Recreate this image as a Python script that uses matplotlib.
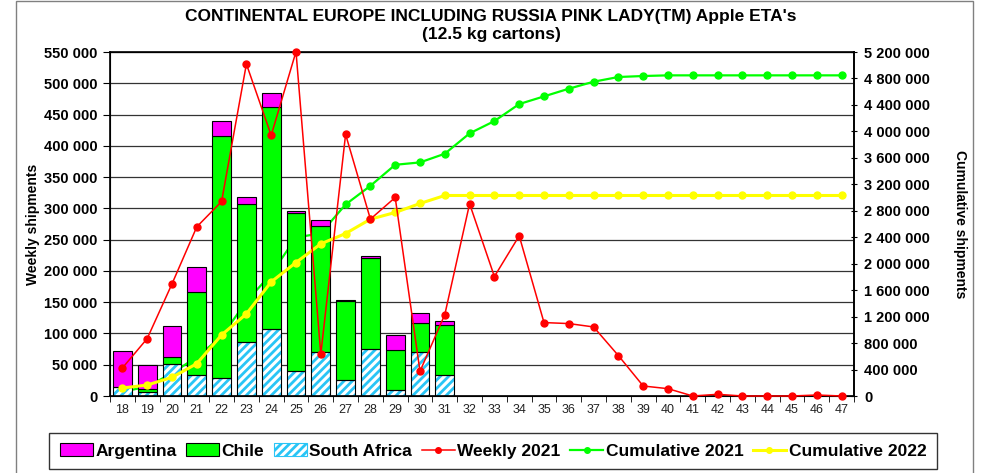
"""Pink Lady ETA's into Continental Europe incl. Russia: weekly bars + cumulative lines."""
import matplotlib
matplotlib.use("Agg")
import matplotlib.pyplot as plt
from matplotlib.patches import Patch, Rectangle
from matplotlib.lines import Line2D
from matplotlib.ticker import FuncFormatter, MultipleLocator

plt.rcParams["font.family"] = ["Liberation Sans", "DejaVu Sans"]
plt.rcParams["hatch.linewidth"] = 2.0

weeks = list(range(18, 48))
bar_weeks = list(range(18, 32))

# weekly shipments by origin (cartons), weeks 18-31
south_africa = [14000, 6400, 50700, 33000, 28300, 87000, 106700, 39500, 71000, 25000, 74700, 9000, 69900, 33600]
chile = [0, 5300, 12300, 133000, 388000, 220000, 356000, 253000, 201600, 126500, 146700, 64000, 46400, 79500]
argentina = [58500, 38000, 49000, 40000, 23000, 10600, 22500, 3200, 8600, 2700, 2100, 24500, 16000, 7500]

weekly_2021 = [44800, 91800, 179300, 270500, 311000, 530800, 416700, 550600, 66700, 418300,
               282800, 317400, 39500, 130200, 307300, 191000, 256100, 117400, 115800, 110400,
               64600, 16000, 11700, 0, 2700, 0, 0, 0, 1600, 0]
cum_2021 = [65000, 141000, 343000, 590000, 900000, 1430000, 1845000, 2395000, 2460000, 2895000,
            3177000, 3495000, 3531000, 3662000, 3970000, 4156000, 4413000, 4529000, 4645000, 4751000,
            4822000, 4837000, 4847000, 4847000, 4847000, 4847000, 4847000, 4847000, 4847000, 4847000]
cum_2022 = [121000, 166000, 282000, 489000, 923000, 1241000, 1725000, 2018000, 2300000, 2456000,
            2673000, 2774000, 2910000, 3031000] + [3031000] * 16


def spaced(v, _pos=None):
    return f"{int(round(v)):,}".replace(",", " ")


fig = plt.figure(figsize=(9.82, 4.73), dpi=100)
fig.patches.append(Rectangle((16 / 982, -0.01), (973 - 16) / 982, 1.0 - 1 / 473 + 0.01,
                             transform=fig.transFigure, fill=False, edgecolor="#808080", lw=1))

ax = fig.add_axes([110 / 982, 1 - 396 / 473, (854 - 110) / 982, (396 - 52) / 473])
ax2 = ax.twinx()

# stacked bars
w = 0.76
ax.bar(bar_weeks, south_africa, width=w, color="white", edgecolor="#29C5F6", hatch="////",
       lw=0, zorder=2)
ax.bar(bar_weeks, south_africa, width=w, fill=False, edgecolor="black", lw=0.8, zorder=2.1)
bot = [a + b for a, b in zip(south_africa, chile)]
ax.bar(bar_weeks, chile, bottom=south_africa, width=w, color="#00FF00", edgecolor="black",
       lw=0.8, zorder=2)
ax.bar(bar_weeks, argentina, bottom=bot, width=w, color="#FF00FF", edgecolor="black",
       lw=0.8, zorder=2)

# cumulative 2021 sits behind the bars (right-axis scale)
ax.plot(weeks, cum_2021, color="#00FF00", lw=1.6, marker="o", ms=5, transform=ax2.transData,
        zorder=1.5, clip_on=False)
ax2.plot(weeks, cum_2022, color="#FFFF00", lw=2.2, marker="o", ms=5, zorder=3, clip_on=False)
ax2.plot(weeks, weekly_2021, color="#FF0000", lw=1.1, marker="o", ms=5, zorder=4, clip_on=False,
         transform=ax.transData)

ax.set_xlim(17.5, 47.5)
ax.set_ylim(0, 550000)
ax2.set_ylim(0, 5200000)
ax.yaxis.set_major_locator(MultipleLocator(50000))
ax2.yaxis.set_major_locator(MultipleLocator(400000))
ax.yaxis.set_major_formatter(FuncFormatter(spaced))
ax2.yaxis.set_major_formatter(FuncFormatter(spaced))
ax.set_xticks(weeks)
ax.set_xticks([x + 0.5 for x in range(17, 48)], minor=True)
ax.tick_params(axis="x", which="major", length=0, labelsize=9, pad=6, labelcolor="#222222")
ax.tick_params(axis="x", which="minor", length=4, direction="out")
ax.tick_params(axis="y", length=5, labelsize=10.5, direction="out", pad=4)
ax2.tick_params(axis="y", length=5, labelsize=10.5, direction="inout", pad=5)
for t in ax.get_yticklabels() + ax2.get_yticklabels():
    t.set_fontweight("bold")
ax.grid(axis="y", color="#333333", lw=0.9, zorder=0)
ax.set_axisbelow(True)
for sp in ax.spines.values():
    sp.set_linewidth(1.2)
ax2.spines["right"].set_linewidth(1.2)

ax.set_ylabel("Weekly shipments", fontsize=10, fontweight="bold", labelpad=3)
ax2.set_ylabel("Cumulative shipments", fontsize=10, fontweight="bold", rotation=-90,
               labelpad=26)

fig.text(0.5, 1 - 16 / 473, "CONTINENTAL EUROPE INCLUDING RUSSIA PINK LADY(TM) Apple ETA's",
         ha="center", va="center", fontsize=12.5, fontweight="bold")
fig.text(0.5, 1 - 34 / 473, "(12.5 kg cartons)", ha="center", va="center",
         fontsize=12.5, fontweight="bold")

handles = [
    Patch(facecolor="#FF00FF", edgecolor="black", lw=0.8),
    Patch(facecolor="#00FF00", edgecolor="black", lw=0.8),
    Patch(facecolor="white", edgecolor="#29C5F6", hatch="////", lw=0.8),
    Line2D([], [], color="#FF0000", marker="o", ms=4, lw=1.1),
    Line2D([], [], color="#00FF00", marker="o", ms=4, lw=1.6),
    Line2D([], [], color="#FFFF00", marker="o", ms=4, lw=2.2),
]
labels = ["Argentina", "Chile", "South Africa", "Weekly 2021", "Cumulative 2021", "Cumulative 2022"]
leg = fig.legend(handles, labels, loc="center", bbox_to_anchor=(493 / 982, 1 - 451 / 473),
                 ncol=6, frameon=True, fancybox=False, edgecolor="black",
                 prop={"weight": "bold", "size": 12.5}, handlelength=1.9, handletextpad=0.15,
                 columnspacing=0.55, borderpad=0.6)
leg.get_frame().set_linewidth(1.0)

fig.savefig("out.png", dpi=100)
